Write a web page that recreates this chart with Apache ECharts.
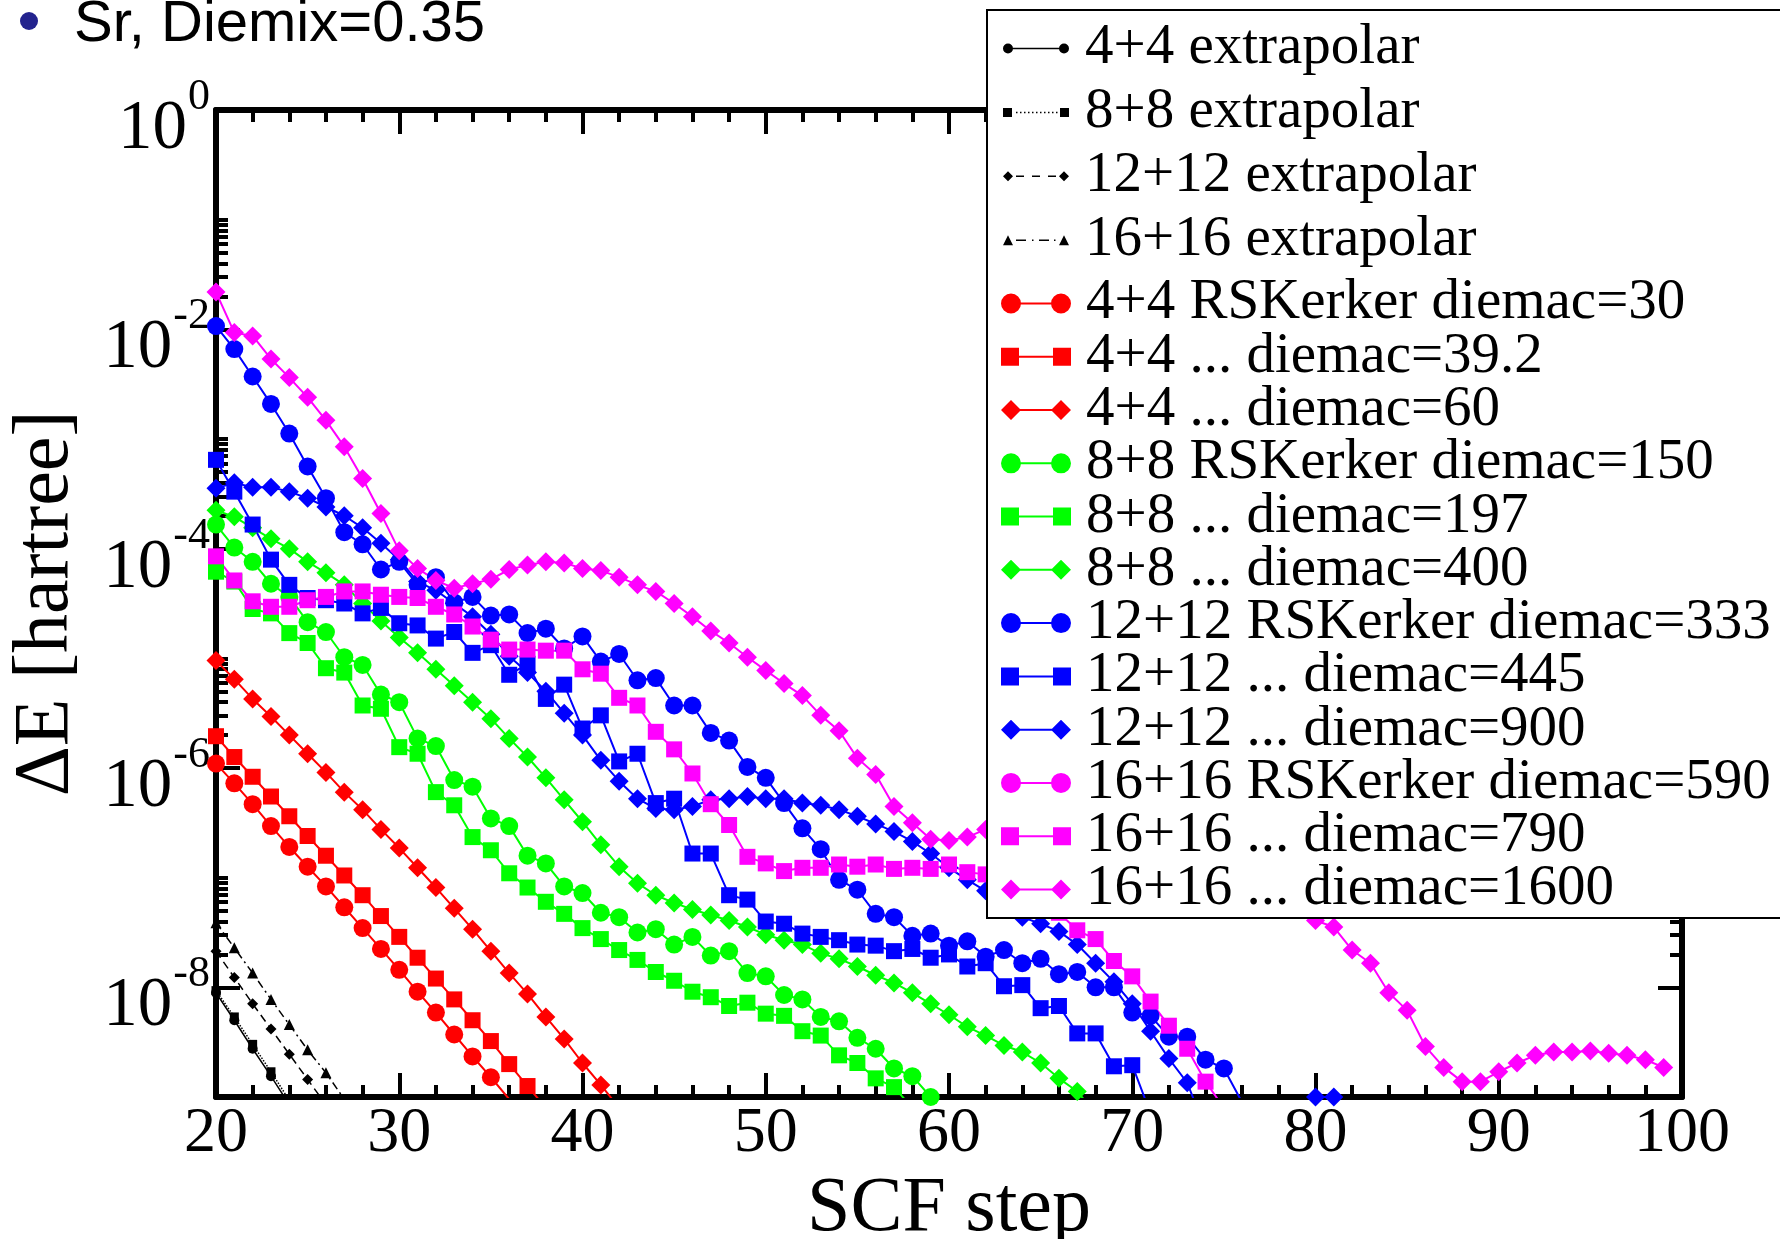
<!DOCTYPE html>
<html><head><meta charset="utf-8">
<script src="https://cdn.jsdelivr.net/npm/echarts@6/dist/echarts.min.js"></script>
<style>html,body{margin:0;padding:0;background:#fff}#c{width:1780px;height:1239px}</style>
</head><body><div id="c"></div>
<script>
// ---------- data (log10 of ΔE in hartree; first value is SCF step 20) ----------
const FIRST_STEP = 20;
const xTickValues = [20, 30, 40, 50, 60, 70, 80, 90, 100];
const yMajorTicks = [1, 1e-2, 1e-4, 1e-6, 1e-8];
const yTickExponents = ['0', '-2', '-4', '-6', '-8'];
const yMinorTicks = [
  2e-2,3e-2,4e-2,5e-2,6e-2,7e-2,8e-2,9e-2,1e-1,
  2e-4,3e-4,4e-4,5e-4,6e-4,7e-4,8e-4,9e-4,1e-3,
  2e-6,3e-6,4e-6,5e-6,6e-6,7e-6,8e-6,9e-6,1e-5,
  2e-8,3e-8,4e-8,5e-8,6e-8,7e-8,8e-8,9e-8,1e-7
];

const ext44 = [-8.05, -8.30, -8.56, -8.81, -9.07];
const ext88 = [-8.03, -8.27, -8.52, -8.77, -9.03];
const ext1212 = [-7.67, -7.91, -8.15, -8.38, -8.61, -8.84, -9.07];
const ext1616 = [-7.41, -7.64, -7.87, -8.11, -8.34, -8.57, -8.78, -9.02];

const rk44_30 = [-5.96, -6.14, -6.33, -6.53, -6.72, -6.90, -7.08, -7.27, -7.46, -7.65, -7.84, -8.04, -8.23, -8.43, -8.63, -8.82, -9.02];
const rk44_39 = [-5.71, -5.90, -6.08, -6.26, -6.44, -6.62, -6.80, -6.98, -7.16, -7.35, -7.54, -7.73, -7.92, -8.11, -8.30, -8.49, -8.70, -8.90, -9.10];
const rk44_60 = [-5.02, -5.19, -5.37, -5.53, -5.70, -5.87, -6.04, -6.22, -6.38, -6.56, -6.73, -6.91, -7.09, -7.28, -7.47, -7.67, -7.87, -8.06, -8.27, -8.47, -8.69, -8.89, -9.10];

const rk88_150 = [-3.78, -3.99, -4.12, -4.32, -4.44, -4.67, -4.76, -4.99, -5.06, -5.33, -5.40, -5.73, -5.80, -6.11, -6.17, -6.46, -6.53, -6.80, -6.87, -7.08, -7.14, -7.32, -7.36, -7.50, -7.47, -7.61, -7.54, -7.71, -7.67, -7.87, -7.90, -8.07, -8.11, -8.27, -8.31, -8.46, -8.56, -8.74, -8.81, -9.00, -9.20];
const rk88_197 = [-4.21, -4.30, -4.55, -4.59, -4.77, -4.86, -5.09, -5.13, -5.43, -5.46, -5.81, -5.87, -6.22, -6.34, -6.63, -6.75, -6.96, -7.09, -7.22, -7.33, -7.46, -7.56, -7.66, -7.75, -7.86, -7.94, -8.04, -8.09, -8.17, -8.14, -8.24, -8.26, -8.40, -8.44, -8.62, -8.69, -8.83, -8.91, -9.10];
const rk88_400 = [-3.65, -3.71, -3.81, -3.91, -4.00, -4.12, -4.22, -4.33, -4.50, -4.66, -4.81, -4.95, -5.10, -5.25, -5.40, -5.55, -5.73, -5.90, -6.09, -6.29, -6.49, -6.70, -6.90, -7.05, -7.16, -7.23, -7.29, -7.34, -7.39, -7.45, -7.52, -7.57, -7.61, -7.69, -7.74, -7.81, -7.89, -7.96, -8.05, -8.15, -8.25, -8.36, -8.44, -8.53, -8.59, -8.69, -8.83, -8.95, -9.15];

const rk1212_333 = [-1.97, -2.18, -2.43, -2.68, -2.95, -3.25, -3.54, -3.85, -3.96, -4.19, -4.12, -4.33, -4.26, -4.49, -4.44, -4.61, -4.60, -4.77, -4.73, -4.91, -4.80, -5.03, -4.96, -5.20, -5.18, -5.43, -5.43, -5.68, -5.75, -5.99, -6.09, -6.32, -6.55, -6.74, -7.02, -7.11, -7.33, -7.36, -7.53, -7.51, -7.62, -7.58, -7.72, -7.66, -7.78, -7.74, -7.88, -7.86, -8.00, -8.00, -8.23, -8.26, -8.45, -8.45, -8.66, -8.74, -9.05];
const rk1212_445 = [-3.19, -3.48, -3.78, -4.10, -4.33, -4.45, -4.47, -4.50, -4.59, -4.54, -4.68, -4.70, -4.82, -4.76, -4.95, -4.88, -5.15, -5.05, -5.37, -5.24, -5.64, -5.52, -5.94, -5.87, -6.32, -6.28, -6.78, -6.78, -7.16, -7.20, -7.40, -7.42, -7.51, -7.54, -7.57, -7.61, -7.62, -7.67, -7.65, -7.73, -7.70, -7.81, -7.78, -7.99, -7.98, -8.19, -8.17, -8.42, -8.42, -8.72, -8.71, -9.15];
const rk1212_900 = [-3.45, -3.40, -3.44, -3.44, -3.48, -3.54, -3.62, -3.70, -3.81, -3.95, -4.10, -4.30, -4.38, -4.50, -4.62, -4.78, -4.98, -5.13, -5.30, -5.50, -5.70, -5.93, -6.12, -6.28, -6.37, -6.38, -6.35, -6.29, -6.28, -6.26, -6.28, -6.28, -6.32, -6.34, -6.38, -6.44, -6.51, -6.58, -6.67, -6.78, -6.91, -7.02, -7.12, -7.25, -7.36, -7.42, -7.49, -7.61, -7.78, -7.95, -8.15, -8.40, -8.65, -8.87, -9.30, null, null, null, null, null, -9.00, -9.00];

const rk1616_590 = [];
const rk1616_790 = [-4.07, -4.29, -4.48, -4.53, -4.53, -4.47, -4.44, -4.39, -4.39, -4.42, -4.44, -4.45, -4.53, -4.60, -4.71, -4.83, -4.92, -4.92, -4.93, -4.93, -5.10, -5.14, -5.36, -5.43, -5.67, -5.83, -6.05, -6.33, -6.52, -6.81, -6.87, -6.94, -6.91, -6.91, -6.88, -6.90, -6.88, -6.92, -6.91, -6.92, -6.88, -6.95, -6.97, -7.00, -7.10, -7.20, -7.32, -7.48, -7.56, -7.76, -7.90, -8.13, -8.35, -8.56, -8.86, -9.10];
const rk1616_1600 = [-1.66, -2.03, -2.06, -2.27, -2.44, -2.62, -2.83, -3.07, -3.36, -3.68, -4.02, -4.18, -4.29, -4.36, -4.32, -4.28, -4.19, -4.15, -4.12, -4.13, -4.18, -4.20, -4.26, -4.33, -4.39, -4.50, -4.62, -4.75, -4.86, -4.99, -5.11, -5.23, -5.34, -5.52, -5.66, -5.91, -6.06, -6.35, -6.50, -6.65, -6.66, -6.63, -6.56, -6.50, -6.45, -6.42, -6.41, -6.42, -6.45, -6.50, -6.56, -6.62, -6.69, -6.76, -6.84, -6.92, -7.01, -7.10, -7.19, -7.28, -7.39, -7.45, -7.66, -7.78, -8.05, -8.21, -8.54, -8.73, -8.86, -8.86, -8.77, -8.69, -8.62, -8.59, -8.59, -8.58, -8.60, -8.62, -8.66, -8.73];

const seriesNames = [
  '4+4 extrapolar', '8+8 extrapolar', '12+12 extrapolar', '16+16 extrapolar',
  '4+4 RSKerker diemac=30', '4+4 ... diemac=39.2', '4+4 ... diemac=60',
  '8+8 RSKerker diemac=150', '8+8 ... diemac=197', '8+8 ... diemac=400',
  '12+12 RSKerker diemac=333', '12+12 ... diemac=445', '12+12 ... diemac=900',
  '16+16 RSKerker diemac=590', '16+16 ... diemac=790', '16+16 ... diemac=1600'
];
const seriesLogs = [ext44, ext88, ext1212, ext1616, rk44_30, rk44_39, rk44_60,
  rk88_150, rk88_197, rk88_400, rk1212_333, rk1212_445, rk1212_900,
  rk1616_590, rk1616_790, rk1616_1600];

// ---------- styles ----------
const RED = '#ff0000', GREEN = '#00ff00', BLUE = '#0000ff', MAG = '#ff00ff', BLK = '#000000';
const styles = [
  {c: BLK, sym: 'circle', size: 10, type: 'solid', w: 1.5},
  {c: BLK, sym: 'rect', size: 9, type: 'dotted', w: 1.5},
  {c: BLK, sym: 'diamond', size: 11, type: [8, 5], w: 1.5},
  {c: BLK, sym: 'triangle', size: 11, type: [8, 4, 2, 4], w: 1.5},
  {c: RED, sym: 'circle', size: 18, type: 'solid', w: 2},
  {c: RED, sym: 'rect', size: 16, type: 'solid', w: 2},
  {c: RED, sym: 'diamond', size: 19, type: 'solid', w: 2},
  {c: GREEN, sym: 'circle', size: 18, type: 'solid', w: 2},
  {c: GREEN, sym: 'rect', size: 16, type: 'solid', w: 2},
  {c: GREEN, sym: 'diamond', size: 19, type: 'solid', w: 2},
  {c: BLUE, sym: 'circle', size: 18, type: 'solid', w: 2},
  {c: BLUE, sym: 'rect', size: 16, type: 'solid', w: 2},
  {c: BLUE, sym: 'diamond', size: 19, type: 'solid', w: 2},
  {c: MAG, sym: 'circle', size: 18, type: 'solid', w: 2},
  {c: MAG, sym: 'rect', size: 16, type: 'solid', w: 2},
  {c: MAG, sym: 'diamond', size: 19, type: 'solid', w: 2}
];

// legend icons: symbol at both ends joined by a line (Grace style)
const ICON_BIG = {
  circle: 'path://M0,10A10,10,0,1,1,20,10A10,10,0,1,1,0,10ZM50,10A10,10,0,1,1,70,10A10,10,0,1,1,50,10ZM18,9L52,9L52,11L18,11Z',
  rect: 'path://M0,1L18,1L18,19L0,19ZM52,1L70,1L70,19L52,19ZM18,9L52,9L52,11L18,11Z',
  diamond: 'path://M0,10L10,0L20,10L10,20ZM50,10L60,0L70,10L60,20ZM18,9L52,9L52,11L18,11Z'
};
function dots() { let s = ''; for (let x = 13; x < 55; x += 4) s += 'M' + x + ',4.3L' + (x + 1.5) + ',4.3L' + (x + 1.5) + ',5.8L' + x + ',5.8Z'; return s; }
const ICON_SMALL = [
  'path://M0,5A5,5,0,1,1,10,5A5,5,0,1,1,0,5ZM56,5A5,5,0,1,1,66,5A5,5,0,1,1,56,5ZM9,4.3L57,4.3L57,5.8L9,5.8Z',
  'path://M0,0.5L9,0.5L9,9.5L0,9.5ZM57,0.5L66,0.5L66,9.5L57,9.5Z' + dots(),
  'path://M0,5L5,0L10,5L5,10ZM56,5L61,0L66,5L61,10ZM13,4.3L21,4.3L21,5.8L13,5.8ZM29,4.3L37,4.3L37,5.8L29,5.8ZM45,4.3L53,4.3L53,5.8L45,5.8Z',
  'path://M0,10L5,0L10,10ZM56,10L61,0L66,10ZM13,4.3L23,4.3L23,5.8L13,5.8ZM29,4.3L30.5,4.3L30.5,5.8L29,5.8ZM36,4.3L46,4.3L46,5.8L36,5.8ZM51,4.3L52.5,4.3L52.5,5.8L51,5.8Z'
];

const SERIF = 'Liberation Serif';

const series = seriesNames.map((name, k) => {
  const st = styles[k];
  const data = seriesLogs[k].map((e, i) => [FIRST_STEP + i, e === null ? '-' : Math.pow(10, e)]);
  return {
    name, type: 'line', data,
    xAxisIndex: 0, yAxisIndex: 0,
    symbol: st.sym, symbolSize: st.size, showSymbol: true, showAllSymbol: true,
    itemStyle: {color: st.c, borderWidth: 0},
    lineStyle: {color: st.c, width: st.w, type: st.type},
    connectNulls: false, clip: true, animation: false, z: 2
  };
});

const legendExtra = seriesNames.slice(0, 4).map((n, i) => ({name: n, icon: ICON_SMALL[i]}));
const legendMain = seriesNames.slice(4).map((n, i) => ({name: n, icon: ICON_BIG[styles[i + 4].sym]}));

const axisLineStyle = {show: true, lineStyle: {color: '#000', width: 6}};
function xAxisDef(pos, showLabel) {
  return {
    type: 'value', position: pos, min: 20, max: 100, interval: 10, gridIndex: 0,
    axisLine: axisLineStyle,
    axisTick: {show: true, inside: true, length: 24, lineStyle: {color: '#000', width: 4}},
    minorTick: {show: true, splitNumber: 5, length: 12, lineStyle: {color: '#000', width: 4}},
    splitLine: {show: false}, minorSplitLine: {show: false},
    axisLabel: {show: showLabel, fontFamily: SERIF, fontSize: 64, color: '#000', margin: 5,
      customValues: xTickValues},
    name: showLabel ? 'SCF step' : '', nameLocation: 'middle', nameGap: 61,
    nameTextStyle: {fontFamily: SERIF, fontSize: 78, color: '#000'}
  };
}
function yAxisDef(pos, major, showLabel) {
  return {
    type: 'log', logBase: 10, position: pos, min: 1e-9, max: 1, gridIndex: 0,
    axisLine: major ? axisLineStyle : {show: false},
    axisTick: {show: true, inside: true, length: major ? 24 : 12,
      lineStyle: {color: '#000', width: 4}, customValues: major ? yMajorTicks : yMinorTicks},
    splitLine: {show: false},
    axisLabel: showLabel ? {
      show: true, margin: 6, customValues: yMajorTicks,
      formatter: function (v) {
        let idx = 0;
        yMajorTicks.forEach((t, i) => { if (Math.abs(Math.log10(t) - Math.log10(v)) < 1e-6) idx = i; });
        return '{b|10}{s|' + yTickExponents[idx] + '}';
      },
      rich: {
        b: {fontFamily: SERIF, fontSize: 69, color: '#000', padding: [40, 0, 0, 0]},
        s: {fontFamily: SERIF, fontSize: 44, color: '#000', verticalAlign: 'top', padding: [20, 0, 0, 1]}
      }
    } : {show: false},
    name: showLabel ? 'ΔE [hartree]' : '', nameLocation: 'middle', nameGap: 130,
    nameTextStyle: {fontFamily: SERIF, fontSize: 78, color: '#000'}
  };
}

const option = {
  animation: false,
  backgroundColor: '#fff',
  title: {
    text: 'Sr, Diemix=0.35', left: 74, top: -4, padding: 0,
    textStyle: {fontFamily: 'Liberation Sans', fontSize: 58, fontWeight: 'normal', color: '#000'}
  },
  grid: {left: 216, top: 110, right: 98, bottom: 142, containLabel: false, outerBoundsMode: 'none'},
  xAxis: [xAxisDef('bottom', true), xAxisDef('top', false)],
  yAxis: [yAxisDef('left', true, true), yAxisDef('left', false, false),
          yAxisDef('right', true, false), yAxisDef('right', false, false)],
  legend: [
    {data: legendExtra, orient: 'vertical', left: 1003, top: 20, padding: 0, itemGap: 6.9,
     itemWidth: 66, itemHeight: 10, selectedMode: false, z: 6, symbolKeepAspect: true,
     itemStyle: {borderWidth: 0},
     textStyle: {fontFamily: SERIF, fontSize: 57, color: '#000', padding: [0, 0, 0, 11]}},
    {data: legendMain, orient: 'vertical', left: 1001, top: 275, padding: 0, itemGap: -3.73,
     itemWidth: 70, itemHeight: 20, selectedMode: false, z: 6, symbolKeepAspect: true,
     itemStyle: {borderWidth: 0},
     textStyle: {fontFamily: SERIF, fontSize: 57, color: '#000', padding: [0, 0, 0, 10]}}
  ],
  graphic: [
    {type: 'rect', z: 5, shape: {x: 987, y: 10, width: 820, height: 908},
     style: {fill: '#fff', stroke: '#000', lineWidth: 2}},
    {type: 'circle', z: 5, shape: {cx: 29, cy: 21, r: 9}, style: {fill: '#23238e'}}
  ],
  series
};

const chart = echarts.init(document.getElementById('c'), null, {renderer: 'canvas'});
chart.setOption(option);
</script>
</body></html>
